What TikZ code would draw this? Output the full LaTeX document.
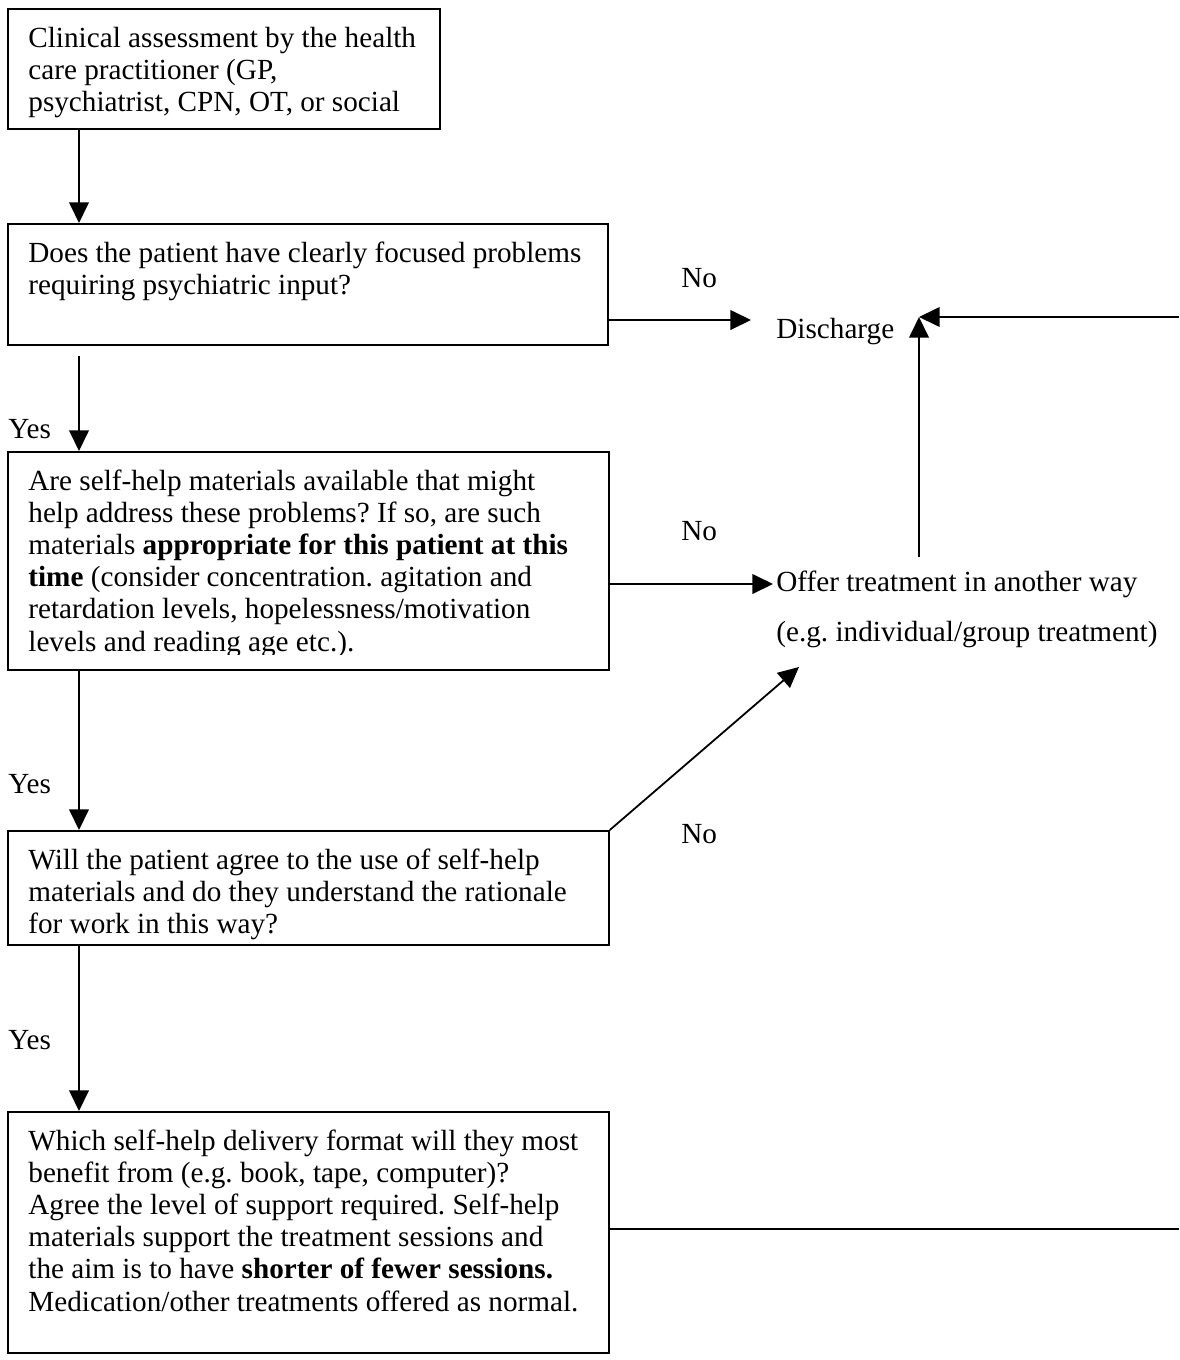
\documentclass[tikz,border=0pt]{standalone}
\usepackage{fontspec}
\setmainfont{Liberation Serif}
\usetikzlibrary{arrows.meta}
\frenchspacing
\begin{document}
\begin{tikzpicture}[x=0.5pt,y=-0.5pt,
  box/.style={draw, line width=0.9pt, inner sep=0pt, anchor=north west},
  conn/.style={line width=0.9pt, -{Triangle[length=10.3pt,width=9.8pt]}},
  plainline/.style={line width=0.9pt},
  txt/.style={inner sep=0pt, anchor=base west, align=left, font=\fontsize{14.6pt}{16.1pt}\selectfont},
]
\useasboundingbox[fill=white] (0,0) rectangle (1179,1360);

% boxes
\node[box, minimum width=216pt, minimum height=60pt] (b1) at (7,8) {};
\node[box, minimum width=300pt, minimum height=60.5pt] (b2) at (7,223) {};
\node[box, minimum width=300.5pt, minimum height=109pt] (b3) at (7,451) {};
\node[box, minimum width=300.5pt, minimum height=57pt] (b4) at (7,830) {};
\node[box, minimum width=300.5pt, minimum height=120.5pt] (b5) at (7,1111) {};

% box texts
\node[txt] (t1) at (28,47) {\parbox[t]{210pt}{\raggedright Clinical assessment by the health\\care practitioner (GP,\\psychiatrist, CPN, OT, or social}};
\node[txt] (t2) at (28,262) {\parbox[t]{290pt}{\raggedright Does the patient have clearly focused problems\\requiring psychiatric input?}};
\begin{scope}
\clip (7,451) rectangle (608,654);
\node[txt] (t3) at (28,490) {\parbox[t]{290pt}{\raggedright Are self-help materials available that might\\help address these problems? If so, are such\\materials \textbf{appropriate for this patient at this}\\\textbf{time} (consider concentration. agitation and\\retardation levels, hopelessness/motivation\\levels and reading age etc.).}};
\end{scope}
\node[txt] (t4) at (28,869) {\parbox[t]{290pt}{\raggedright Will the patient agree to the use of self-help\\materials and do they understand the rationale\\for work in this way?}};
\node[txt] (t5) at (28,1150) {\parbox[t]{290pt}{\raggedright Which self-help delivery format will they most\\benefit from (e.g. book, tape, computer)?\\Agree the level of support required. Self-help\\materials support the treatment sessions and\\the aim is to have \textbf{shorter of fewer sessions.}\\Medication/other treatments offered as normal.}};

% outcome texts
\node[txt] (dis) at (776,338) {Discharge};
\node[txt] (off) at (776,591) {Offer treatment in another way};
\node[txt] (off2) at (776,641) {(e.g. individual/group treatment)};

% labels
\node[txt] (no1) at (681,287) {No};
\node[txt] (no2) at (681,540) {No};
\node[txt] (no3) at (681,843) {No};
\node[txt] (yes1) at (8,438) {Yes};
\node[txt] (yes2) at (8,793) {Yes};
\node[txt] (yes3) at (8,1049) {Yes};

% connector end points
\coordinate (disTip) at (919,317);
\coordinate (disIn) at (751,320);
\coordinate (offTip) at (773,584);
\coordinate (offUp) at (919,557);
\coordinate (offDiag) at (799,667);
\coordinate (rightTop) at (1179,317);
\coordinate (rightBot) at (1179,1229);

% vertical flow
\draw[conn] ([xshift=36pt]b1.south west) -- ([xshift=36pt]b2.north west);
\draw[conn] ([xshift=36pt,yshift=-5pt]b2.south west) -- ([xshift=36pt]b3.north west);
\draw[conn] ([xshift=36pt]b3.south west) -- ([xshift=36pt]b4.north west);
\draw[conn] ([xshift=36pt]b4.south west) -- ([xshift=36pt]b5.north west);

% side connectors
\draw[conn] (b2.east |- disIn) -- (disIn);
\draw[conn] (b3.east |- offTip) -- (offTip);
\draw[conn] (b4.north east) -- (offDiag);
\draw[conn] (offUp) -- (disTip);
\draw[conn] (rightTop) -- (disTip);
\draw[plainline] (b5.east |- rightBot) -- (rightBot);
\end{tikzpicture}
\end{document}
